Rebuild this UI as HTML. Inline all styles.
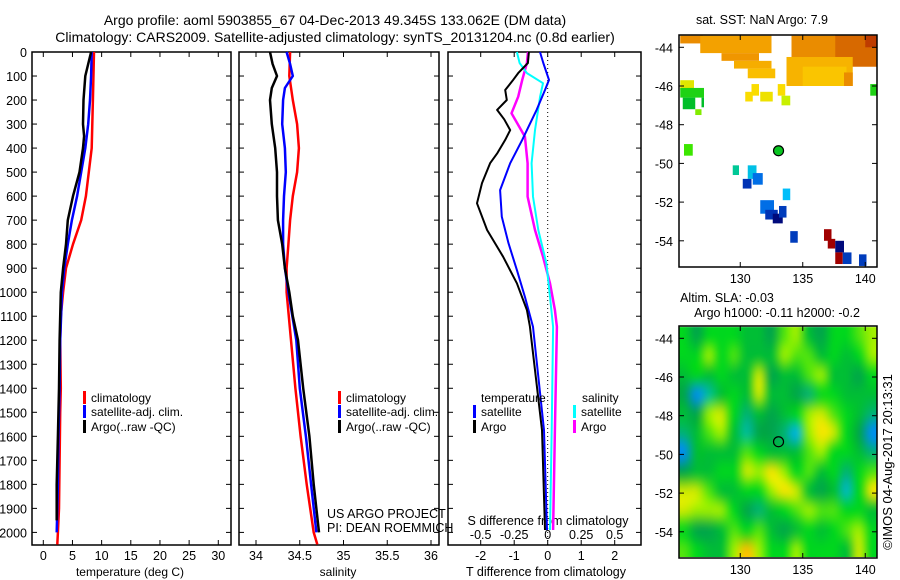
<!DOCTYPE html>
<html><head><meta charset="utf-8"><style>
html,body{margin:0;padding:0;background:#fff;width:900px;height:580px;overflow:hidden}
svg{position:absolute;left:0;top:0}
text{font-family:"Liberation Sans",sans-serif;font-size:12.5px;fill:#000}
#sla{position:absolute;left:679px;top:326px}
</style></head><body>
<canvas id="sla" width="198" height="231"></canvas>
<svg id="chart" width="900" height="580"></svg>
<script>
// ---- profile data ----
const tDepthClim=[0,200,400,500,600,700,800,900,1000,1100,1200,1400,1500,1700,1900,2000,2050];
const tClim=[8.7,8.5,8.3,7.8,7.3,6.5,5.1,3.9,3.4,3.0,2.9,3.0,2.9,2.8,2.7,2.5,2.4];
const tDepthSat=[0,100,200,300,400,500,600,700,800,900,1000,1200,1400,1600,1800,2000];
const tSat=[8.3,8.2,8.0,7.7,7.2,6.5,5.8,4.9,4.2,3.6,3.2,2.9,2.8,2.6,2.5,2.3];
const tDepthArgo=[0,50,100,200,300,350,400,500,600,700,800,900,1000,1200,1400,1600,1800,1950];
const tArgo=[8.2,7.7,7.2,6.9,6.8,7.0,6.8,6.2,5.1,4.2,3.9,3.4,3.0,2.8,2.7,2.5,2.3,2.3];
const sDepthClim=[0,100,200,300,400,500,600,700,800,900,1000,1200,1400,1600,1800,2000,2050];
const sClim=[34.39,34.38,34.42,34.47,34.49,34.47,34.42,34.39,34.37,34.35,34.35,34.40,34.45,34.51,34.58,34.66,34.70];
const sDepthSat=[0,50,100,150,200,300,400,500,600,700,800,900,1000,1200,1400,1600,1800,2000];
const sSat=[34.35,34.39,34.42,34.33,34.31,34.30,34.33,34.34,34.32,34.31,34.31,34.33,34.37,34.46,34.50,34.57,34.63,34.69];
const sDepthArgo=[0,50,100,150,200,300,400,500,600,700,800,900,1000,1100,1200,1400,1600,1800,2000];
const sArgo=[34.16,34.19,34.24,34.18,34.16,34.18,34.22,34.24,34.24,34.25,34.30,34.33,34.38,34.42,34.48,34.54,34.61,34.66,34.72];
const dDepthTArgo=[0,46,88,120,158,200,241,280,325,366,420,463,546,630,741,852,963,1074,1143,1574,1990];
const dTArgo=[-0.56,-0.59,-0.88,-1.05,-1.27,-1.22,-1.51,-1.3,-1.12,-1.27,-1.5,-1.72,-1.96,-2.11,-1.81,-1.33,-0.92,-0.62,-0.53,-0.17,-0.08];
const dDepthTSat=[0,46,116,158,241,366,463,575,686,796,908,1019,1144,1574,1990];
const dTSat=[-0.23,-0.13,0.04,-0.08,-0.33,-0.76,-1.12,-1.42,-1.37,-1.17,-0.92,-0.68,-0.44,-0.11,-0.02];
const dDepthSArgo=[0,46,117,186,255,352,463,602,741,852,963,1074,1144,1574,1990];
const dSArgo=[-0.147,-0.155,-0.19,-0.22,-0.27,-0.17,-0.15,-0.15,-0.095,-0.035,0.017,0.054,0.069,0.054,0.04];
const dDepthSSat=[0,46,88,130,186,325,463,602,741,880,1019,1144,1574,1990];
const dSSat=[-0.23,-0.21,-0.155,-0.035,-0.057,-0.095,-0.12,-0.11,-0.07,-0.01,0.017,0.04,0.03,0.017];
const depthTicks=[0,100,200,300,400,500,600,700,800,900,1000,1100,1200,1300,1400,1500,1600,1700,1800,1900,2000];
const tempTicks=[0,5,10,15,20,25,30];
const salTicks=[34,34.5,35,35.5,36];
const dTTicks=[-2,-1,0,1,2];
const dSTicks=[-0.5,-0.25,0,0.25,0.5];
const dSTickLabels=["-0.5","-0.25","0","0.25","0.5"];
// ---- SST patches [lon0,lat0,lon1,lat1,temp] ----
const sstPatches=[
[125.2,-43.4,127,-43.8,10.5],[126.8,-43.4,132.5,-44.3,10],[128.5,-44.3,131.5,-44.7,10.2],[129.5,-44.7,132.5,-45.1,9.8],[130.6,-45.1,132.8,-45.6,9.5],
[134.1,-43.4,141,-45,10.5],[137.6,-43.4,141,-45,11.5],[140,-43.4,141,-44,12.5],[133.7,-44.5,139,-46,9.7],[135,-45,138.5,-46,9.3],[138.3,-45.3,139,-46,10.5],
[130.9,-45.9,131.5,-46.5,8.6],[130.4,-46.3,131,-46.8,8.6],[131.6,-46.3,132.6,-46.8,8.5],[133,-45.9,133.6,-46.5,8.6],[133.3,-46.5,134,-47,8.2],
[125.2,-45.7,126.3,-46.2,8.4],[125.2,-46.1,127.1,-46.6,7.5],[125.4,-46.6,126.4,-47.2,7.2],[126.4,-47.2,126.9,-47.5,8.0],[126.9,-46.6,127.1,-47.1,7.2],
[125.5,-49.0,126.2,-49.6,7.8],[140.4,-45.9,141,-46.5,7.5],[129.4,-50.1,129.9,-50.6,6.0],[130.6,-50.1,131.3,-50.8,5.2],[131,-50.5,131.8,-51.1,4.2],[130.2,-50.8,130.9,-51.3,3.0],
[133.4,-51.3,134,-51.9,5.0],[131.6,-51.9,132.7,-52.6,4.2],[132,-52.4,133,-52.9,3.0],[132.6,-52.6,133.4,-53.1,2.2],[133.1,-52.2,133.7,-52.8,3.2],[134,-53.5,134.6,-54.1,3.2],
[136.7,-53.4,137.3,-54,13],[137,-53.9,137.6,-54.4,13],[137.6,-54,138.3,-54.6,2.2],[137.6,-54.6,138.2,-55.2,13],[138.2,-54.6,138.9,-55.2,3.2],[139.5,-54.7,140.1,-55.3,3.2]];
// ---- SLA grid (rows lat -43.9..-54.9, cols lon 125.5..140.5) ----
const slaRows=[
[.1,0,.1,.1,.1,.05,.05,0,.15,.2,.05,0,.1,.1,.15,.2],
[.1,.1,.2,.1,.15,.05,.05,.05,.2,.15,.15,.05,.1,.05,.1,.2],
[.05,.1,.05,.1,.05,.05,.25,0,.05,.05,.15,.2,.05,.05,0,.1],
[0,-.25,-.1,.05,.1,.05,.25,.05,.05,0,-.05,.1,.1,.05,.05,.05],
[.05,0,.2,.25,.1,-.05,.05,0,.05,.1,.2,.25,.15,.1,.05,-.05],
[-.05,.05,.15,.2,.05,-.1,0,0,-.05,-.2,.2,.3,.25,.1,0,-.25],
[-.25,.05,.05,.05,.05,.15,.1,.05,.05,.05,.15,.2,.1,.1,.05,-.05],
[0,.05,.05,.1,.1,.25,.2,.3,.2,.1,.15,.05,.1,-.05,.1,.15],
[.25,.25,.15,.05,.05,.1,.1,.2,.3,.25,.05,0,.05,-.15,.1,.3],
[.25,.2,.2,.2,.1,0,-.05,.05,.1,.15,.2,.15,.15,.1,.1,.05],
[.1,0,0,.05,.15,.1,.15,.05,0,.05,.1,.05,.1,.15,.2,.1],
[.15,.1,.05,.05,.2,.35,.2,.1,.1,.2,.1,.1,.1,.05,.25,.1]];
const argoLon=133.062, argoLat=-49.345;
const lonTicks=[130,135,140];
const latTicks=[-44,-46,-48,-50,-52,-54];

const NS="http://www.w3.org/2000/svg";
const svg=document.getElementById('chart');
function el(tag,attrs,parent){const e=document.createElementNS(NS,tag);for(const k in attrs)e.setAttribute(k,attrs[k]);(parent||svg).appendChild(e);return e;}
function txt(x,y,s,anchor,parent,size){const t=el('text',{x:x,y:y,'text-anchor':anchor||'start'},parent);if(size)t.style.fontSize=size+'px';t.textContent=s;return t;}

const Y0=52,Y1=545;
function yD(d){return Y0+d*0.2402;}
const P1={x0:32,x1:231}, P2={x0:239,x1:439}, P3={x0:448,x1:641};
function xT(v){return 43.3+v*5.833;}
function xS(v){return 256+(v-34)*87.5;}
function xDT(v){return 547.7+v*33.5;}
function xDS(v){return 547.7+v*134;}

let t1=txt(335,25,"Argo profile: aoml 5903855_67 04-Dec-2013 49.345S 133.062E (DM data)",'middle',null,14);

let t2=txt(335,42,"Climatology: CARS2009. Satellite-adjusted climatology: synTS_20131204.nc (0.8d earlier)",'middle',null,14);


function frame(P,name){const g=el('g',{});
 el('rect',{x:P.x0,y:Y0,width:P.x1-P.x0,height:Y1-Y0,fill:'none',stroke:'#000','stroke-width':1.5},g);
 depthTicks.forEach(d=>{const y=yD(d);el('line',{x1:P.x0,x2:P.x0+5,y1:y,y2:y,stroke:'#000'},g);el('line',{x1:P.x1-5,x2:P.x1,y1:y,y2:y,stroke:'#000'},g);});
 return g;}
function xticks(g,vals,fx,top,bottom){vals.forEach(v=>{const x=fx(v);if(top)el('line',{x1:x,x2:x,y1:Y0,y2:Y0+5,stroke:'#000'},g);if(bottom)el('line',{x1:x,x2:x,y1:Y1-5,y2:Y1,stroke:'#000'},g);});}
function line(g,dep,vals,fx,color,w,name){const pts=dep.map((d,i)=>fx(vals[i]).toFixed(1)+','+yD(d).toFixed(1)).join(' ');
 const p=el('polyline',{points:pts,fill:'none',stroke:color,'stroke-width':w,'stroke-linejoin':'round'},g);
 }
function legend(g,x,y,color,label,name){const lg=el('g',{},g);
 el('rect',{x:x,y:y-11,width:3,height:13,fill:color},lg);txt(x+8,y,label,'start',lg,12);}

const g1=frame(P1,'temperature-panel');
depthTicks.forEach(d=>{const lb=txt(27,yD(d)+5,String(d),'end',g1,12.5);});
xticks(g1,tempTicks,xT,true,true);
tempTicks.forEach(v=>txt(xT(v),560,String(v),'middle',g1,12.5));
txt(130,576,"temperature (deg C)",'middle',g1,12);
line(g1,tDepthClim,tClim,xT,'#ff0000',2.5,'temp-climatology-line');
line(g1,tDepthSat,tSat,xT,'#0000ff',2.5,'temp-satellite-line');
line(g1,tDepthArgo,tArgo,xT,'#000',2.5,'temp-argo-line');
legend(g1,83,402,'#f00','climatology','legend-climatology');
legend(g1,83,416,'#00f','satellite-adj. clim.','legend-satellite');
legend(g1,83,431,'#000','Argo(..raw -QC)','legend-argo');

const g2=frame(P2,'salinity-panel');
xticks(g2,salTicks,xS,true,true);
salTicks.forEach(v=>txt(xS(v),560,String(v),'middle',g2,12.5));
txt(338,576,"salinity",'middle',g2,12);
line(g2,sDepthClim,sClim,xS,'#ff0000',2.5,'sal-climatology-line');
line(g2,sDepthSat,sSat,xS,'#0000ff',2.5,'sal-satellite-line');
line(g2,sDepthArgo,sArgo,xS,'#000',2.5,'sal-argo-line');
legend(g2,338,402,'#f00','climatology','legend-climatology');
legend(g2,338,416,'#00f','satellite-adj. clim.','legend-satellite');
legend(g2,338,431,'#000','Argo(..raw -QC)','legend-argo');
txt(327,518,"US ARGO PROJECT",'start',g2,12.5);
txt(327,532,"PI: DEAN ROEMMICH",'start',g2,12.5);

const g3=frame(P3,'difference-panel');
xticks(g3,dTTicks,xDT,true,true);
el('line',{x1:xDT(0),x2:xDT(0),y1:Y0,y2:Y1,stroke:'#000','stroke-dasharray':'1,3'},g3);
dTTicks.forEach(v=>txt(xDT(v),560,String(v),'middle',g3,12.5));
dSTicks.forEach((v,i)=>txt(xDS(v),539,dSTickLabels[i],'middle',g3,12.5));
txt(548,525,"S difference from climatology",'middle',g3,12.5);
txt(546,576,"T difference from climatology",'middle',g3,12.5);
line(g3,dDepthSArgo,dSArgo,xDS,'#ff00ff',2.5,'s-diff-argo-line');
line(g3,dDepthSSat,dSSat,xDS,'#00ffff',2,'s-diff-satellite-line');
line(g3,dDepthTSat,dTSat,xDT,'#0000ff',2,'t-diff-satellite-line');
line(g3,dDepthTArgo,dTArgo,xDT,'#000',2,'t-diff-argo-line');
txt(481,402,"temperature",'start',g3,12);
legend(g3,473,416,'#00f','satellite','legend-t-satellite');
legend(g3,473,431,'#000','Argo','legend-t-argo');
txt(582,402,"salinity",'start',g3,12);
legend(g3,573,416,'#0ff','satellite','legend-s-satellite');
legend(g3,573,431,'#f0f','Argo','legend-s-argo');

function mkMap(top,name){
 const M={x0:679,x1:877,y0:top,y1:top+232};
 M.lx=lon=>679+(lon-125.1)*12.5;
 M.ly=lat=>top+12.3+(-44-lat)*19.35;
 M.g=el('g',{});
 return M;}
function mapAxes(M){
 el('rect',{x:M.x0,y:M.y0,width:M.x1-M.x0,height:M.y1-M.y0,fill:'none',stroke:'#000','stroke-width':1.5},M.g);
 lonTicks.forEach(v=>{const x=M.lx(v);el('line',{x1:x,x2:x,y1:M.y0,y2:M.y0+5,stroke:'#000'},M.g);el('line',{x1:x,x2:x,y1:M.y1-5,y2:M.y1,stroke:'#000'},M.g);txt(x,M.y1+16,String(v),'middle',M.g,12.5);});
 latTicks.forEach(v=>{const y=M.ly(v);el('line',{x1:M.x0,x2:M.x0+5,y1:y,y2:y,stroke:'#000'},M.g);el('line',{x1:M.x1-5,x2:M.x1,y1:y,y2:y,stroke:'#000'},M.g);txt(673,y+5,String(v),'end',M.g,12.5);});}
function cmap(stops,v){if(v<=stops[0][0])return stops[0][1];for(let i=1;i<stops.length;i++){if(v<=stops[i][0]){const a=stops[i-1],b=stops[i],f=(v-a[0])/(b[0]-a[0]);return a[1].map((c,k)=>Math.round(c+(b[1][k]-c)*f));}}return stops[stops.length-1][1];}
const sstStops=[[2,[0,0,110]],[3,[0,50,180]],[4.2,[0,110,230]],[5,[0,190,250]],[6,[0,200,150]],[7.2,[0,190,40]],[7.8,[60,230,0]],[8.2,[200,240,0]],[8.6,[250,220,0]],[9.5,[250,190,0]],[10.2,[240,150,0]],[11.5,[215,105,0]],[12.5,[190,60,0]],[13,[160,0,0]]];
const slaStops=[[-0.3,[0,100,255]],[-0.2,[0,180,240]],[-0.1,[0,190,160]],[0,[0,165,75]],[0.1,[0,215,30]],[0.2,[160,240,0]],[0.3,[255,230,0]],[0.4,[255,150,0]]];

const MT=mkMap(35,'sst-map');
txt(762,24,"sat. SST: NaN Argo: 7.9",'middle',MT.g,12.5);
sstPatches.forEach(p=>{const c=cmap(sstStops,p[4]);const x=Math.max(MT.lx(p[0]),MT.x0),x2=Math.min(MT.lx(p[2]),MT.x1),y=Math.max(MT.ly(p[1]),MT.y0),y2=MT.ly(p[3]);
 const r=el('rect',{x:x,y:y,width:x2-x,height:y2-y,fill:'rgb('+c.join(',')+')'},MT.g);
 
 });
mapAxes(MT);
const mk1=el('circle',{cx:MT.lx(argoLon),cy:MT.ly(argoLat),r:5,fill:'rgb('+cmap(sstStops,7.3).join(',')+')',stroke:'#000','stroke-width':1.2},MT.g);


const MB=mkMap(326,'sla-map');
txt(727,302,"Altim. SLA: -0.03",'middle',MB.g,12.5);
txt(777,317,"Argo h1000: -0.11 h2000: -0.2",'middle',MB.g,12.5);
(function(){const nr=slaRows.length,nc=slaRows[0].length;const sm=document.createElement('canvas');sm.width=nc;sm.height=nr;const sc=sm.getContext('2d');const img=sc.createImageData(nc,nr);
 for(let r=0;r<nr;r++)for(let c=0;c<nc;c++){const col=cmap(slaStops,slaRows[r][c]);const i=(r*nc+c)*4;img.data[i]=col[0];img.data[i+1]=col[1];img.data[i+2]=col[2];img.data[i+3]=255;}
 sc.putImageData(img,0,0);
 const cv=document.getElementById('sla');const ctx=cv.getContext('2d');ctx.imageSmoothingEnabled=true;ctx.imageSmoothingQuality='high';
 const x0=MB.lx(125)-679,y0=MB.ly(-43.4)-326;
 ctx.drawImage(sm,x0,y0,nc*12.5,nr*19.35);})();
mapAxes(MB);
const mk2=el('circle',{cx:MB.lx(argoLon),cy:MB.ly(argoLat),r:5,fill:'none',stroke:'#000','stroke-width':1.2},MB.g);

const cr=txt(0,0,"©IMOS 04-Aug-2017 20:13:31",'middle',null,13);
cr.setAttribute('transform','translate(892,462) rotate(-90)');

</script>
</body></html>
